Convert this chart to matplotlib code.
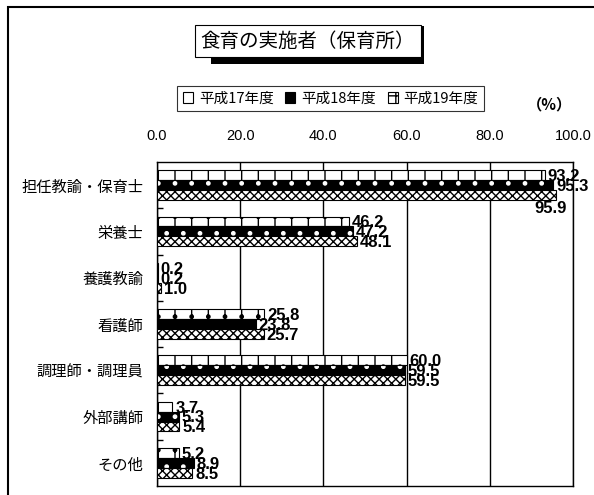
import matplotlib.pyplot as plt
from matplotlib.patches import Patch, Rectangle
import numpy as np

plt.rcParams['font.family'] = ['Noto Sans CJK JP', 'DejaVu Sans']
plt.rcParams['hatch.linewidth'] = 1.0

# data
categories = ['担任教諭・保育士', '栄養士', '養護教諭', '看護師', '調理師・調理員', '外部講師', 'その他']
years = ['平成17年度', '平成18年度', '平成19年度']
h17 = [93.2, 46.2, 0.2, 25.8, 60.0, 3.7, 5.2]
h18 = [95.3, 47.2, 0.2, 23.8, 59.5, 5.3, 8.9]
h19 = [95.9, 48.1, 1.0, 25.7, 59.5, 5.4, 8.5]
xticks = [0, 20, 40, 60, 80, 100]

fig = plt.figure(figsize=(5.94, 4.95), dpi=100)
ax = fig.add_axes([0.2643, 0.0182, 0.7003, 0.6545])

# outer border (top and left only visible)
fig.add_artist(Rectangle((8 / 594, -0.1), 1.2, 1 - 7 / 495 + 0.1, transform=fig.transFigure,
                         facecolor='none', edgecolor='black', linewidth=1.5, clip_on=False))

y = np.arange(len(categories))
h = 0.215
series = [h17, h18, h19]

# 平成17: white, vertical lines + dots
ax.barh(y - h, h17, height=h, color='white', edgecolor='black', hatch='|.', linewidth=0.8, zorder=3)
# 平成18: black with white marks
ax.barh(y, h18, height=h, color='black', edgecolor='white', hatch='.', linewidth=0, zorder=3)
ax.barh(y, h18, height=h, color='none', edgecolor='black', linewidth=0.8, zorder=3)
# 平成19: dense checker
ax.barh(y + h, h19, height=h, color='white', edgecolor='black', hatch='xxxx', linewidth=0.8, zorder=3)

top = max(max(s) for s in series)
for k, vals in enumerate(series):
    for i, v in enumerate(vals):
        yy = i + (k - 1) * h
        if v == top:
            ax.annotate(f'{v:.1f}', (v, yy), xytext=(8, -10), textcoords='offset points',
                        ha='right', va='center', fontsize=12, fontweight='bold',
                        family=['Liberation Sans', 'DejaVu Sans'], zorder=5, annotation_clip=False)
        else:
            ax.annotate(f'{v:.1f}', (v, yy), xytext=(2, -1), textcoords='offset points',
                        ha='left', va='center', fontsize=12, fontweight='bold',
                        family=['Liberation Sans', 'DejaVu Sans'], zorder=5, annotation_clip=False)

ax.set_xlim(0, 100)
ax.set_ylim(len(categories) - 0.5, -0.5)
ax.xaxis.tick_top()
ax.set_xticks(xticks)
ax.set_xticklabels([f'{t:.1f}' for t in xticks], fontsize=10.5, family=['Liberation Sans', 'DejaVu Sans'])
ax.tick_params(axis='x', length=0, pad=14)
ax.set_yticks(y)
ax.set_yticklabels(categories, fontsize=11)
ax.tick_params(axis='y', length=0, pad=10)
ax.set_yticks(y[:-1] + 0.5, minor=True)
ax.tick_params(axis='y', which='minor', direction='in', length=4, width=1, color='black')
ax.grid(axis='x', color='black', linewidth=1, zorder=1)
ax.set_axisbelow(True)
for s in ax.spines.values():
    s.set_color('black')
    s.set_linewidth(1)

# title with shadow box
fig.text(0.5179, 1 - 41 / 495, '食育の実施者（保育所）', ha='center', va='center', fontsize=14,
         bbox=dict(boxstyle='square,pad=0.3', facecolor='white', edgecolor='black', linewidth=0.8))
fig.add_artist(Rectangle((211 / 594, 1 - 64 / 495), 213 / 594, 38 / 495, transform=fig.transFigure,
                         facecolor='black', edgecolor='none', zorder=-1))

handles = [Patch(facecolor='white', edgecolor='black', linewidth=0.8),
           Patch(facecolor='black', edgecolor='black', linewidth=0.8),
           Patch(facecolor='white', edgecolor='black', hatch='++', linewidth=0.8)]
leg = fig.legend(handles, years, loc='center', bbox_to_anchor=(0.5564, 1 - 98.5 / 495), ncol=3,
                 fontsize=10.5, handlelength=0.7, handleheight=0.7, handletextpad=0.4,
                 columnspacing=0.8, borderpad=0.4, fancybox=False, edgecolor='black')
leg.get_frame().set_linewidth(0.8)

fig.text(0.925, 1 - 104 / 495, '（%）', ha='center', va='center', fontsize=11, fontweight='bold')

fig.savefig('out.png', dpi=100)
